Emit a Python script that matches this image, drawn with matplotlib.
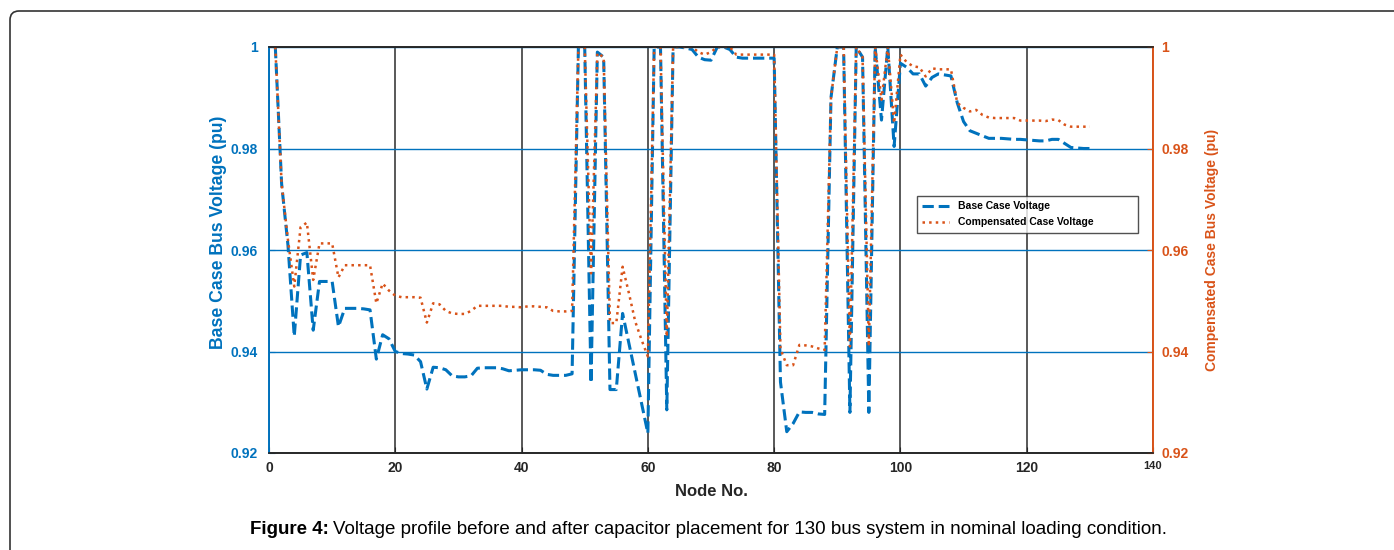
import numpy as np
import matplotlib
matplotlib.use("Agg")
import matplotlib.pyplot as plt
from matplotlib.patches import FancyBboxPatch

plt.rcParams['font.family'] = ['Liberation Sans', 'DejaVu Sans']

# bus voltages, nodes 1..130
nodes = np.arange(1, 131)

base_voltage = [
    1.0, 0.973, 0.961, 0.943, 0.959, 0.9595, 0.9442, 0.9538, 0.9538, 0.9538,
    0.9449, 0.9485, 0.9485, 0.9485, 0.9484, 0.9482, 0.9385, 0.9433, 0.9425, 0.940,
    0.9396, 0.9395, 0.9393, 0.938, 0.9326, 0.9369, 0.9368, 0.9364, 0.9352, 0.935,
    0.935, 0.9352, 0.9367, 0.9368, 0.9368, 0.9368, 0.9366, 0.9362, 0.9363, 0.9364,
    0.9364, 0.9364, 0.9363, 0.9355, 0.9353, 0.9353, 0.9353, 0.9356, 1.0, 1.0,
    0.9338, 0.999, 0.998, 0.9325, 0.9325, 0.9475, 0.9416, 0.9357, 0.9298, 0.9239,
    1.0, 1.0, 0.9285, 1.0, 1.0, 0.9998, 0.9995, 0.998, 0.9975, 0.9974,
    1.0, 1.0, 0.9995, 0.998, 0.9978, 0.9978, 0.9978, 0.9978, 0.9978, 0.9978,
    0.934, 0.9242, 0.9258, 0.9281, 0.928, 0.928, 0.9277, 0.9276, 0.990, 1.0,
    1.0, 0.928, 1.0, 0.998, 0.928, 1.0, 0.9856, 1.0, 0.9804, 0.9968,
    0.996, 0.9947, 0.9947, 0.9923, 0.994, 0.9947, 0.9945, 0.9943, 0.989, 0.9853,
    0.9835, 0.983, 0.9825, 0.982, 0.982, 0.982, 0.9819, 0.9818, 0.9818, 0.9817,
    0.9816, 0.9815, 0.9815, 0.9818, 0.9818, 0.981, 0.9802, 0.9801, 0.980, 0.980,
]

comp_voltage = [
    1.0, 0.973, 0.962, 0.9528, 0.9645, 0.9654, 0.9541, 0.9613, 0.9613, 0.9613,
    0.9546, 0.957, 0.957, 0.957, 0.957, 0.957, 0.9495, 0.9534, 0.952, 0.951,
    0.9507, 0.9507, 0.9507, 0.9506, 0.9457, 0.9495, 0.9493, 0.948, 0.9475, 0.9474,
    0.9474, 0.948, 0.949, 0.949, 0.949, 0.949, 0.949, 0.9488, 0.9488, 0.9487,
    0.9489, 0.9489, 0.9488, 0.9487, 0.948, 0.9479, 0.9479, 0.948, 1.0, 1.0,
    0.9554, 0.9988, 0.998, 0.9456, 0.9456, 0.9567, 0.9515, 0.9459, 0.9423, 0.939,
    1.0, 1.0, 0.9429, 1.0, 1.0, 1.0, 1.0, 0.999, 0.9985, 0.999,
    1.0, 1.0, 1.0, 0.9985, 0.9985, 0.9985, 0.9985, 0.9985, 0.9985, 0.9985,
    0.9405, 0.9373, 0.9373, 0.9413, 0.9412, 0.941, 0.9406, 0.9403, 0.990, 1.0,
    1.0, 0.941, 1.0, 0.998, 0.941, 1.0, 0.9896, 1.0, 0.985, 0.9985,
    0.997, 0.9962, 0.996, 0.9942, 0.9958, 0.9956, 0.9956, 0.9956, 0.989, 0.988,
    0.9873, 0.9876, 0.9866, 0.9861, 0.986, 0.986, 0.986, 0.986, 0.9855, 0.9855,
    0.9855, 0.9855, 0.9854, 0.9857, 0.9856, 0.9847, 0.9843, 0.9843, 0.9843, 0.9843,
]

x_ticks = [0, 20, 40, 60, 80, 100, 120, 140]
y_ticks = [0.92, 0.94, 0.96, 0.98, 1.0]
y_tick_labels = ["0.92", "0.94", "0.96", "0.98", "1"]

BLUE = '#0072BD'
ORANGE = '#D95319'
DARK = '#262626'

fig = plt.figure(figsize=(13.94, 5.5), dpi=100)
ax = fig.add_axes([269 / 1394, 1 - 453 / 550, (1153 - 269) / 1394, (453 - 47) / 550])
ax2 = ax.twinx()

l1, = ax.plot(nodes, base_voltage, linestyle='--', color=BLUE, linewidth=2.2,
              label='Base Case Voltage')
l2, = ax2.plot(nodes, comp_voltage, linestyle=':', color=ORANGE, linewidth=1.8,
               label='Compensated Case Voltage')

for a in (ax, ax2):
    a.set_xlim(0, 140)
    a.set_ylim(0.92, 1.0)
    a.set_yticks(y_ticks)

ax.set_xticks(x_ticks)
ax.set_xticklabels([str(t) for t in x_ticks], fontsize=10, fontweight='bold', color=DARK)
ax.get_xticklabels()[-1].set_fontsize(8)
ax.set_yticklabels(y_tick_labels, fontsize=10, fontweight='bold', color=BLUE)
ax2.set_yticklabels(y_tick_labels, fontsize=10, fontweight='bold', color=ORANGE)

ax.tick_params(axis='x', direction='in', length=4, color=DARK, pad=6)
ax.tick_params(axis='y', direction='in', length=4, color=BLUE, pad=8)
ax2.tick_params(axis='y', direction='in', length=4, color=ORANGE, pad=6)

# grid: blue horizontal, dark vertical
ax.yaxis.grid(True, color=BLUE, linewidth=1.0)
ax.xaxis.grid(True, color=DARK, linewidth=1.2, alpha=0.9)
ax.set_axisbelow(True)

for a in (ax, ax2):
    a.spines['top'].set_color(DARK)
    a.spines['bottom'].set_color(DARK)
    a.spines['left'].set_color(BLUE)
    a.spines['right'].set_color(ORANGE)
    for s in a.spines.values():
        s.set_linewidth(1.2)

ax.set_xlabel('Node No.', fontsize=12, fontweight='bold', color=DARK, labelpad=6)
ax.set_ylabel('Base Case Bus Voltage (pu)', fontsize=12.7, fontweight='bold', color=BLUE)
ax.yaxis.set_label_coords(-0.047, 0.544)
ax2.set_ylabel('Compensated Case Bus Voltage (pu)', fontsize=10, fontweight='bold',
               color=ORANGE, rotation=90, labelpad=12)

leg = ax2.legend(handles=[l1, l2], loc='upper left',
                 bbox_to_anchor=(0.733, 0.534, 0.25, 0.099), mode='expand',
                 prop={'size': 7.5, 'weight': 'bold'}, frameon=True, fancybox=False,
                 handlelength=2.6, borderaxespad=0, labelspacing=0.6, borderpad=0.5)
leg.get_frame().set_edgecolor(DARK)
leg.get_frame().set_linewidth(1.0)

# caption: bold prefix + regular text
renderer = fig.canvas.get_renderer()
cap_y = 1 - 529 / 550
t1 = fig.text(250 / 1394, cap_y, 'Figure 4:', fontsize=13.5, fontweight='bold', va='center')
bb = t1.get_window_extent(renderer)
fig.text((bb.x1 + 4) / 1394, cap_y,
         'Voltage profile before and after capacitor placement for 130 bus system in nominal loading condition.',
         fontsize=13.5, va='center')

# rounded page border, running off the right and bottom edges
border = FancyBboxPatch((10, -60), 1500, 539 + 60, boxstyle='round,pad=0,rounding_size=9',
                        transform=None, fill=False, edgecolor='#333333', linewidth=1.2)
fig.patches.append(border)

fig.savefig('out.png', dpi=100)
